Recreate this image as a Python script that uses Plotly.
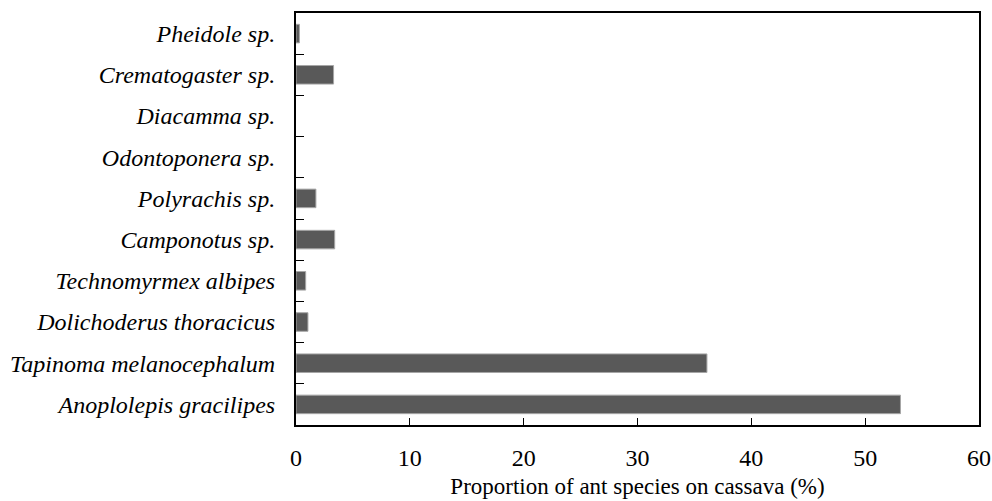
import plotly.graph_objects as go

# Ant species recorded on cassava and their share of all ants (%)
species = [
    "Anoplolepis gracilipes",
    "Tapinoma melanocephalum",
    "Dolichoderus thoracicus",
    "Technomyrmex albipes",
    "Camponotus sp.",
    "Polyrachis sp.",
    "Odontoponera sp.",
    "Diacamma sp.",
    "Crematogaster sp.",
    "Pheidole sp.",
]
proportion = [53.1, 36.1, 1.05, 0.85, 3.4, 1.75, 0.0, 0.0, 3.3, 0.3]
x_ticks = [0, 10, 20, 30, 40, 50, 60]

serif = "Liberation Serif"

# no outline on empty bars so zero values stay invisible
outline = [1 if v > 0 else 0 for v in proportion]

fig = go.Figure(
    go.Bar(
        x=proportion,
        y=species,
        orientation="h",
        marker=dict(color="#595959", line=dict(color="#a6a6a6", width=outline)),
    )
)

fig.update_layout(
    width=992,
    height=501,
    margin=dict(l=296, r=13, t=13, b=76),
    paper_bgcolor="white",
    plot_bgcolor="white",
    bargap=0.55,
    showlegend=False,
    font=dict(family=serif, color="black"),
)

fig.update_xaxes(
    automargin=False,
    range=[0, 60],
    tickvals=x_ticks,
    ticktext=[str(v) for v in x_ticks],
    ticks="inside",
    ticklen=7,
    tickwidth=1,
    tickcolor="black",
    ticklabelstandoff=10,
    tickfont=dict(size=24, family=serif),
    showline=True,
    linecolor="black",
    linewidth=2,
    mirror=True,
    showgrid=False,
    zeroline=False,
    title=dict(
        text="Proportion of ant species on cassava (%)",
        font=dict(size=23, family=serif),
        standoff=8,
    ),
)

fig.update_yaxes(
    automargin=False,
    categoryorder="array",
    categoryarray=species,
    tickson="boundaries",
    ticks="inside",
    ticklen=8,
    tickwidth=1,
    tickcolor="black",
    ticklabelstandoff=14,
    tickfont=dict(size=24, family=serif, style="italic"),
    showline=True,
    linecolor="black",
    linewidth=2,
    mirror=True,
    showgrid=False,
    zeroline=False,
)

fig.write_html("out.html")
